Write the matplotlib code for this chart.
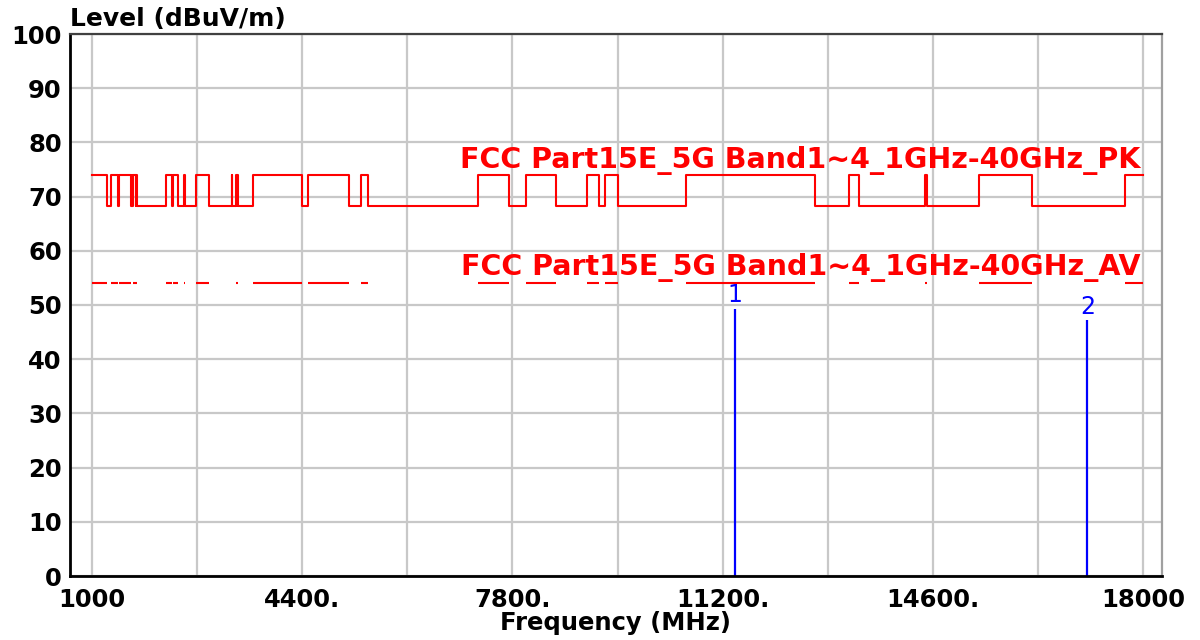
import matplotlib
matplotlib.use("Agg")
import matplotlib.pyplot as plt
import numpy as np

# restricted bands (MHz) inside 1-18 GHz: 74 dBuV/m PK / 54 dBuV/m AV
band_start = [1000, 1300, 1435, 1645.5, 1660, 1718.8, 2200, 2310, 2483.5, 2690,
              3260, 3332, 3345.8, 3600, 4500, 5350, 7250, 8025, 9000, 9300,
              10600, 13250, 14470, 15350, 17700]
band_stop = [1240, 1427, 1626.5, 1646.5, 1710, 1722.2, 2300, 2390, 2500, 2900,
             3267, 3339, 3358, 4400, 5150, 5460, 7750, 8500, 9200, 9500,
             12700, 13400, 14500, 16200, 18000]
pk_restricted = 74.0
pk_other = 68.2
av_restricted = 54.0

f_start = 1000
f_stop = 18000

# measured peaks
marker_freq = [11400, 17100]
marker_level = [49.3, 47.2]
marker_name = ['1', '2']

x_ticks = [1000, 2700, 4400, 6100, 7800, 9500, 11200, 12900, 14600, 16300, 18000]
x_tick_labels = ['1000', '', '4400.', '', '7800.', '', '11200.', '', '14600.', '', '18000']
y_ticks = list(range(0, 101, 10))

pk_label = 'FCC Part15E_5G Band1~4_1GHz-40GHz_PK'
av_label = 'FCC Part15E_5G Band1~4_1GHz-40GHz_AV'

# build the peak limit as a step curve
edges = [f_start]
levels = []
pos = f_start
for s, e in zip(band_start, band_stop):
    if s > pos:
        levels.append(pk_other)
        edges.append(s)
    levels.append(pk_restricted)
    edges.append(e)
    pos = e
if pos < f_stop:
    levels.append(pk_other)
    edges.append(f_stop)
pk_x = np.array(edges)
pk_y = np.array(levels + [levels[-1]])

plt.rcParams['font.family'] = ['DejaVu Sans']

W, H = 1200, 640
fig = plt.figure(figsize=(W / 100, H / 100), dpi=100)
ax = fig.add_axes([70 / W, 1 - 576 / H, (1162 - 70) / W, (576 - 34) / H])

ax.set_xlim(645, 18305)
ax.set_ylim(0, 100)

ax.set_xticks(x_ticks)
ax.set_xticklabels(x_tick_labels)
ax.set_yticks(y_ticks)
ax.tick_params(axis='both', length=0, labelsize=17.5)
ax.tick_params(axis='x', pad=8.5)
ax.tick_params(axis='y', pad=6)
for lab in ax.get_xticklabels() + ax.get_yticklabels():
    lab.set_fontweight('bold')

ax.grid(True, color='#c8c8c8', linewidth=1.6)
ax.set_axisbelow(True)

for side in ['left', 'bottom']:
    ax.spines[side].set_color('black')
    ax.spines[side].set_linewidth(2)
ax.spines['top'].set_color('#404040')
ax.spines['top'].set_linewidth(1.6)
ax.spines['right'].set_color('#a0a0a0')
ax.spines['right'].set_linewidth(1.6)

# limit lines
ax.plot(pk_x, pk_y, drawstyle='steps-post', color='red', linewidth=1.5)
ax.hlines([av_restricted] * len(band_start), band_start, band_stop,
          color='red', linewidth=1.5)

ax.text(17960, pk_restricted + 1.3, pk_label, color='red', fontsize=20.5,
        fontweight='bold', ha='right', va='baseline')
ax.text(17960, av_restricted + 1.5, av_label, color='red', fontsize=20.5,
        fontweight='bold', ha='right', va='baseline')

# peak markers
ax.vlines(marker_freq, 0, marker_level, color='blue', linewidth=1.6)
for f, lv, name in zip(marker_freq, marker_level, marker_name):
    ax.text(f, lv + 0.3, name, color='blue', fontsize=17, ha='center', va='bottom')

fig.text(70 / W, 1 - 26 / H, 'Level (dBuV/m)', ha='left', va='baseline',
         fontsize=18, fontweight='bold')
fig.text(616 / W, 1 - 630 / H, 'Frequency (MHz)', ha='center', va='baseline',
         fontsize=17.5, fontweight='bold')

fig.savefig('out.png', dpi=100)
